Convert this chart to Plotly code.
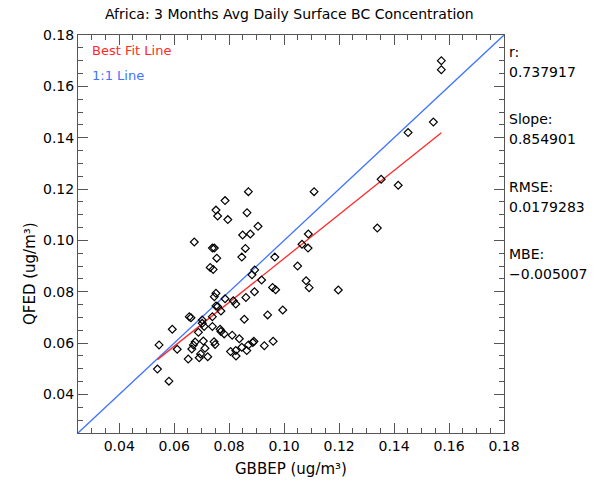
import plotly.graph_objects as go

# ---- data ----
gbbep = [0.0545, 0.0539, 0.0581, 0.0593, 0.0611, 0.0651, 0.0673, 0.0655, 0.0661, 0.0702,
         0.0702, 0.0709, 0.0739, 0.0767, 0.0770, 0.0782, 0.0811, 0.0837, 0.0890, 0.0886,
         0.0928, 0.0960, 0.0745, 0.0749, 0.0688, 0.0676, 0.0670, 0.0706, 0.0712, 0.0664,
         0.0696, 0.0691, 0.0722, 0.0805, 0.0824, 0.0825, 0.0846, 0.0864, 0.0870, 0.0870,
         0.1109, 0.0785, 0.0752, 0.0758, 0.0795, 0.0865, 0.0905, 0.0849, 0.0877, 0.0739,
         0.0746, 0.0859, 0.0755, 0.0846, 0.0966, 0.0731, 0.0742, 0.0893, 0.0883, 0.0918,
         0.1049, 0.1088, 0.1065, 0.1087, 0.1080, 0.1091, 0.1197, 0.0958, 0.0969, 0.0892,
         0.0861, 0.0785, 0.0752, 0.0746, 0.0752, 0.0758, 0.0770, 0.0815, 0.0824, 0.0995,
         0.0940, 0.0855, 0.0739, 0.1353, 0.1415, 0.1339, 0.1572, 0.1572, 0.1543, 0.1451]
qfed = [0.0593, 0.0499, 0.0452, 0.0654, 0.0576, 0.0538, 0.0994, 0.0703, 0.0699, 0.0690,
        0.0677, 0.0665, 0.0665, 0.0654, 0.0645, 0.0636, 0.0631, 0.0617, 0.0607, 0.0602,
        0.0590, 0.0607, 0.0605, 0.0595, 0.0642, 0.0604, 0.0593, 0.0608, 0.0580, 0.0577,
        0.0558, 0.0543, 0.0547, 0.0567, 0.0571, 0.0550, 0.0584, 0.0571, 0.0593, 0.1190,
        0.1190, 0.1155, 0.1118, 0.1095, 0.1081, 0.1108, 0.1055, 0.1021, 0.1025, 0.0970,
        0.0970, 0.0969, 0.0931, 0.0935, 0.0935, 0.0895, 0.0887, 0.0885, 0.0866, 0.0846,
        0.0900, 0.1025, 0.0985, 0.0970, 0.0843, 0.0816, 0.0807, 0.0817, 0.0808, 0.0800,
        0.0778, 0.0773, 0.0794, 0.0781, 0.0745, 0.0743, 0.0725, 0.0765, 0.0752, 0.0729,
        0.0710, 0.0693, 0.0703, 0.1238, 0.1215, 0.1048, 0.1700, 0.1665, 0.1461, 0.1420]

fit_slope = 0.854901
fit_intercept = 0.0075
axis_range = [0.025, 0.18]
tick_vals = [0.04, 0.06, 0.08, 0.10, 0.12, 0.14, 0.16, 0.18]
tick_text = ["0.04", "0.06", "0.08", "0.10", "0.12", "0.14", "0.16", "0.18"]
stats_labels = ["r:", "Slope:", "RMSE:", "MBE:"]
stats_values = ["0.737917", "0.854901", "0.0179283", "\u22120.005007"]

# ---- layout geometry (pixels) ----
W, H = 604, 482
L, R, T, B = 78, 100, 35, 49
PW, PH = W - L - R, H - T - B


def px(xp):
    return (xp - L) / PW


def py(yp):
    return (H - B - yp) / PH


FONT = "DejaVu Sans"
AXC = "#555555"

fit_x = [min(gbbep), max(gbbep)]
fit_y = [fit_intercept + fit_slope * v for v in fit_x]

fig = go.Figure()
fig.add_trace(go.Scatter(x=axis_range, y=axis_range, mode="lines",
                         line=dict(color="#3f74ff", width=1.3), hoverinfo="skip"))
fig.add_trace(go.Scatter(x=fit_x, y=fit_y, mode="lines",
                         line=dict(color="#ff2a2a", width=1.3), hoverinfo="skip"))
fig.add_trace(go.Scatter(x=gbbep, y=qfed, mode="markers",
                         marker=dict(symbol="diamond-open", size=6, color="black",
                                     line=dict(width=1.2, color="black"))))

axis_common = dict(
    range=axis_range, tickvals=tick_vals, ticktext=tick_text,
    ticks="inside", ticklen=10, tickwidth=1, tickcolor=AXC,
    showline=True, linecolor=AXC, linewidth=1, mirror="ticks",
    showgrid=False, zeroline=False,
    tickfont=dict(family=FONT, size=14, color="black"),
    minor=dict(dtick=0.005, tick0=0.0, ticks="inside", ticklen=5, tickcolor=AXC, showgrid=False),
)

fig.update_layout(
    width=W, height=H,
    margin=dict(l=L, r=R, t=T, b=B, pad=0),
    paper_bgcolor="white", plot_bgcolor="white",
    showlegend=False,
    xaxis=dict(**axis_common),
    yaxis=dict(**axis_common),
)

ann = []
ann.append(dict(text="Africa: 3 Months Avg Daily Surface BC Concentration",
                x=px(289), y=py(14), font=dict(family=FONT, size=14, color="black")))
ann.append(dict(text="GBBEP (ug/m\u00b3)", x=px(291), y=py(469),
                font=dict(family=FONT, size=15, color="black")))
ann.append(dict(text="QFED (ug/m\u00b3)", x=px(30), y=py(274), textangle=-90,
                font=dict(family=FONT, size=15, color="black")))
ann.append(dict(text="Best Fit Line", x=px(90), y=py(51), xanchor="left",
                font=dict(family=FONT, size=13, color="#ff2a2a")))
ann.append(dict(text="1:1 Line", x=px(90), y=py(76), xanchor="left",
                font=dict(family=FONT, size=13, color="#3f74ff")))
label_y = [52, 119, 187, 254]
value_y = [72, 139, 207, 274]
for lab, val, ly, vy in zip(stats_labels, stats_values, label_y, value_y):
    ann.append(dict(text=lab, x=px(507), y=py(ly), xanchor="left",
                    font=dict(family=FONT, size=14, color="black")))
    ann.append(dict(text=val, x=px(507), y=py(vy), xanchor="left",
                    font=dict(family=FONT, size=14, color="black")))

for a in ann:
    a.update(xref="paper", yref="paper", showarrow=False)
    a.setdefault("xanchor", "center")
    a.setdefault("yanchor", "middle")
fig.update_layout(annotations=ann)

fig.write_html("out.html")
